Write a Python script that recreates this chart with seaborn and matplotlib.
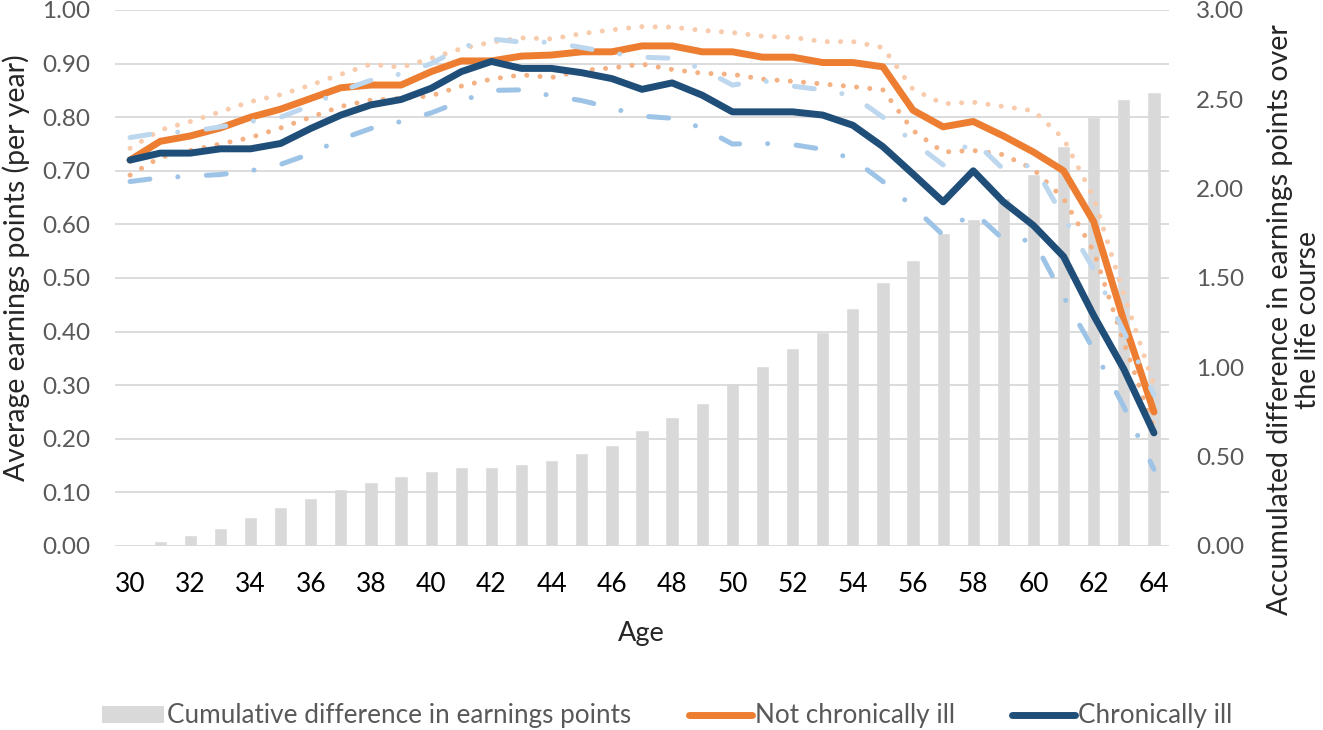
import numpy as np
import pandas as pd
import seaborn as sns
import matplotlib.pyplot as plt
from matplotlib.patches import Patch
from matplotlib.lines import Line2D

#%% data
ages = list(range(30, 65))

not_ill = [0.72, 0.755, 0.765, 0.78, 0.80, 0.815, 0.835, 0.855, 0.86, 0.86,
           0.885, 0.905, 0.905, 0.914, 0.916, 0.922, 0.922, 0.933, 0.933, 0.922,
           0.922, 0.912, 0.912, 0.902, 0.902, 0.894, 0.813, 0.782, 0.792, 0.765,
           0.735, 0.70, 0.605, 0.42, 0.25]
not_ill_hi = [0.742, 0.776, 0.792, 0.81, 0.829, 0.842, 0.86, 0.88, 0.899, 0.893,
              0.91, 0.928, 0.94, 0.948, 0.946, 0.956, 0.963, 0.969, 0.968, 0.962,
              0.958, 0.951, 0.949, 0.941, 0.941, 0.93, 0.852, 0.825, 0.828, 0.82,
              0.812, 0.76, 0.65, 0.47, 0.30]
not_ill_lo = [0.692, 0.725, 0.738, 0.75, 0.762, 0.78, 0.80, 0.82, 0.832, 0.835,
              0.84, 0.858, 0.871, 0.879, 0.874, 0.887, 0.892, 0.899, 0.889, 0.882,
              0.88, 0.871, 0.867, 0.862, 0.857, 0.851, 0.775, 0.735, 0.738, 0.73,
              0.703, 0.648, 0.55, 0.38, 0.22]

ill = [0.72, 0.733, 0.733, 0.741, 0.741, 0.751, 0.779, 0.804, 0.823, 0.833,
       0.854, 0.885, 0.904, 0.891, 0.891, 0.883, 0.872, 0.852, 0.864, 0.841,
       0.81, 0.81, 0.81, 0.804, 0.785, 0.745, 0.694, 0.642, 0.70, 0.642,
       0.598, 0.54, 0.43, 0.33, 0.211]
ill_hi = [0.762, 0.771, 0.773, 0.782, 0.792, 0.80, 0.822, 0.849, 0.869, 0.881,
          0.90, 0.93, 0.946, 0.94, 0.94, 0.93, 0.92, 0.912, 0.91, 0.89,
          0.86, 0.868, 0.858, 0.851, 0.84, 0.80, 0.754, 0.711, 0.757, 0.703,
          0.711, 0.613, 0.516, 0.40, 0.282]
ill_lo = [0.68, 0.687, 0.69, 0.693, 0.70, 0.712, 0.732, 0.759, 0.779, 0.792,
          0.808, 0.83, 0.85, 0.851, 0.84, 0.831, 0.817, 0.802, 0.798, 0.78,
          0.75, 0.751, 0.749, 0.74, 0.722, 0.68, 0.633, 0.58, 0.624, 0.572,
          0.57, 0.465, 0.366, 0.26, 0.143]

cum_diff = [0.0, 0.03, 0.06, 0.10, 0.16, 0.22, 0.27, 0.32, 0.36, 0.39,
            0.42, 0.44, 0.44, 0.46, 0.48, 0.52, 0.565, 0.65, 0.72, 0.80,
            0.91, 1.01, 1.11, 1.20, 1.33, 1.48, 1.60, 1.75, 1.83, 1.95,
            2.08, 2.24, 2.40, 2.50, 2.54]

df = pd.DataFrame({'Age': ages, 'cum': cum_diff})

#%% colours
ORANGE = '#ED7D31'
ORANGE_HI = '#F8CBAD'
ORANGE_LO = '#F4B183'
NAVY = '#1F4E79'
BLUE_HI = '#BDD7EE'
BLUE_LO = '#9DC3E6'
BAR = '#D9D9D9'
GREY_TXT = '#595959'

sns.set_style('white')
plt.rcParams['font.family'] = ['Lato', 'DejaVu Sans']

fig = plt.figure(figsize=(13.23, 7.30), dpi=100)
ax = fig.add_axes([115 / 1323, 1 - 546 / 730, (1169 - 115) / 1323, 536 / 730])
ax2 = ax.twinx()

# bars on the secondary axis
sns.barplot(data=df, x='Age', y='cum', native_scale=True, width=0.44,
            color=BAR, saturation=1, ax=ax2, zorder=1)

dot = (0, (0.01, 2.65))
dashdot = (0, (4.0, 5.6, 0.01, 5.7))
ci_kw = dict(lw=3.6, dash_capstyle='round', solid_capstyle='round', legend=False)
main_kw = dict(lw=5.0, solid_capstyle='round', solid_joinstyle='round', legend=False)

sns.lineplot(x=ages, y=not_ill_hi, ax=ax, color=ORANGE_HI, linestyle=dot, **ci_kw)
sns.lineplot(x=ages, y=not_ill_lo, ax=ax, color=ORANGE_LO, linestyle=dot, **ci_kw)
sns.lineplot(x=ages, y=not_ill, ax=ax, color=ORANGE, **main_kw)
sns.lineplot(x=ages, y=ill, ax=ax, color=NAVY, **main_kw)
sns.lineplot(x=ages, y=ill_hi, ax=ax, color=BLUE_HI, linestyle=dashdot, **ci_kw)
sns.lineplot(x=ages, y=ill_lo, ax=ax, color=BLUE_LO, linestyle=dashdot, **ci_kw)

# lines above the bars
ax.set_zorder(ax2.get_zorder() + 1)
ax.patch.set_visible(False)

ax.set_xlim(29.5, 64.5)
ax.set_ylim(0, 1)
ax2.set_ylim(0, 3)
ax.set_xticks(range(30, 65, 2))
ax.set_xticklabels([str(a) for a in range(30, 65, 2)])
ax.set_yticks(np.arange(0, 1.01, 0.1))
ax.set_yticklabels([f'{v:.2f}' for v in np.arange(0, 1.01, 0.1)])
ax2.set_yticks(np.arange(0, 3.01, 0.5))
ax2.set_yticklabels([f'{v:.2f}' for v in np.arange(0, 3.01, 0.5)])

ax.yaxis.grid(True, color=BAR, lw=1.3)
ax.xaxis.grid(False)
ax2.grid(False)
for a in (ax, ax2):
    for s in a.spines.values():
        s.set_visible(False)
ax.set_xlabel('')
ax.set_ylabel('')
ax2.set_xlabel('')
ax2.set_ylabel('')

ax.tick_params(axis='y', length=0, pad=18, labelsize=17.5, labelcolor=GREY_TXT)
ax.tick_params(axis='x', length=0, pad=19, labelsize=19, labelcolor='black')
ax2.tick_params(axis='y', length=0, pad=19.5, labelsize=17.5, labelcolor=GREY_TXT)

# axis titles
fig.text(641 / 1323, 1 - 633 / 730, 'Age', ha='center', va='center', fontsize=19.5)
fig.text(16 / 1323, 1 - 268 / 730, 'Average earnings points (per year)',
         rotation=90, ha='center', va='center', fontsize=20.5)
fig.text(1294 / 1323, 1 - 320 / 730,
         'Accumulated difference in earnings points over\nthe life course',
         rotation=90, ha='center', va='center', multialignment='center',
         fontsize=20.5, linespacing=1.08)

# legend
handles = [Patch(facecolor=BAR, edgecolor='none'),
           Line2D([], [], color=ORANGE, lw=5, solid_capstyle='round'),
           Line2D([], [], color=NAVY, lw=5, solid_capstyle='round')]
labels = ['Cumulative difference in earnings points', 'Not chronically ill', 'Chronically ill']
leg = fig.legend(handles, labels, loc='center', bbox_to_anchor=(667 / 1323, 1 - 716 / 730),
                 ncol=3, frameon=False, fontsize=18.8, handlelength=2.4,
                 handleheight=0.65, handletextpad=0.12, columnspacing=2.2)
for t in leg.get_texts():
    t.set_color(GREY_TXT)

plt.savefig('out.png', dpi=100)
plt.close()
